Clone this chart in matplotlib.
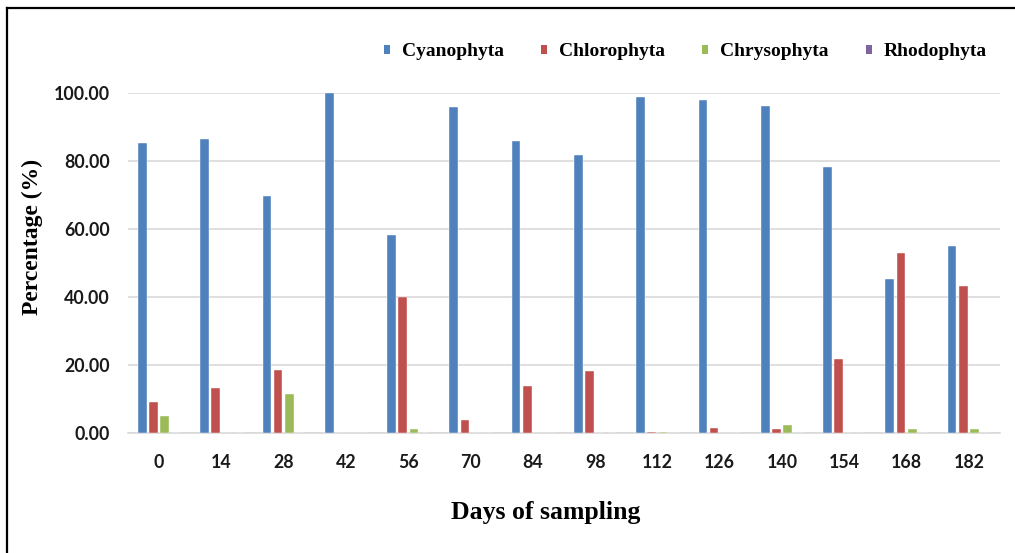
import matplotlib
matplotlib.use("Agg")
import matplotlib.pyplot as plt
from matplotlib.lines import Line2D
import numpy as np

days = ["0", "14", "28", "42", "56", "70", "84", "98", "112", "126", "140", "154", "168", "182"]
cyanophyta = [85.2, 86.4, 69.7, 100.0, 58.2, 95.8, 85.8, 81.6, 98.7, 97.8, 96.2, 78.1, 45.3, 55.1]
chlorophyta = [9.1, 13.3, 18.5, 0.0, 39.9, 3.9, 14.0, 18.2, 0.5, 1.7, 1.3, 21.7, 52.8, 43.2]
chrysophyta = [5.2, 0.0, 11.4, 0.0, 1.4, 0.0, 0.0, 0.0, 0.4, 0.0, 2.3, 0.0, 1.3, 1.3]
rhodophyta = [0.0] * 14
series_names = ["Cyanophyta", "Chlorophyta", "Chrysophyta", "Rhodophyta"]
colors = ["#4F81BD", "#C0504D", "#9BBB59", "#8064A2"]

W, H = 1015, 553
fig = plt.figure(figsize=(W / 100, H / 100), dpi=100)
ax = fig.add_axes([128 / W, (H - 433.3) / H, (1000 - 128) / W, (433.3 - 92.7) / H])

x = np.arange(len(days))
slot = 0.18
bar_w = 0.14
for i, (vals, name, c) in enumerate(zip([cyanophyta, chlorophyta, chrysophyta, rhodophyta], series_names, colors)):
    ax.bar(x + (i - 1.5) * slot, vals, width=bar_w, color=c, edgecolor="white",
           linewidth=0.3, zorder=3, label=name)

ax.set_xlim(-0.5, len(days) - 0.5)
ax.set_ylim(0, 100)
ax.set_yticks(np.arange(0, 101, 20))
ax.set_yticklabels([f"{v:.2f}" for v in np.arange(0, 101, 20)])
ax.set_xticks(x)
ax.set_xticklabels(days)
ax.grid(axis="y", color="#d9d9d9", linewidth=1.2, zorder=0)
ax.set_axisbelow(True)
for s in ["left", "right", "top"]:
    ax.spines[s].set_visible(False)
ax.spines["bottom"].set_color("#d9d9d9")
ax.spines["bottom"].set_linewidth(1.2)
ax.tick_params(axis="both", length=0, labelsize=12.8)
ax.tick_params(axis="x", pad=15)
ax.tick_params(axis="y", pad=13)
for lab in ax.get_xticklabels() + ax.get_yticklabels():
    lab.set_fontfamily("Lato")
    lab.set_fontweight("bold")
    lab.set_color("#1a1a1a")

fig.text(546 / W, (H - 512) / H, "Days of sampling", family="Liberation Serif",
         weight="bold", fontsize=18.5, ha="center", va="center")
fig.text(32 / W, (H - 237) / H, "Percentage (%)", family="Liberation Serif",
         weight="bold", fontsize=17, ha="center", va="center", rotation=90)

leg = fig.legend(loc="center left", bbox_to_anchor=(384 / W, (H - 52) / H), ncol=4,
                 frameon=False, handlelength=0.33, handleheight=0.33,
                 handletextpad=0.6, columnspacing=1.9, borderpad=0, borderaxespad=0,
                 prop={"family": "Liberation Serif", "weight": "bold", "size": 14})
for h in leg.legend_handles:
    h.set_edgecolor("none")

# outer frame
fig.add_artist(Line2D([7 / W, 7 / W], [0, (H - 8) / H], color="black", linewidth=1.6))
fig.add_artist(Line2D([7 / W, 1], [(H - 8) / H, (H - 8) / H], color="black", linewidth=1.6))

fig.savefig("out.png", dpi=100, facecolor="white")
